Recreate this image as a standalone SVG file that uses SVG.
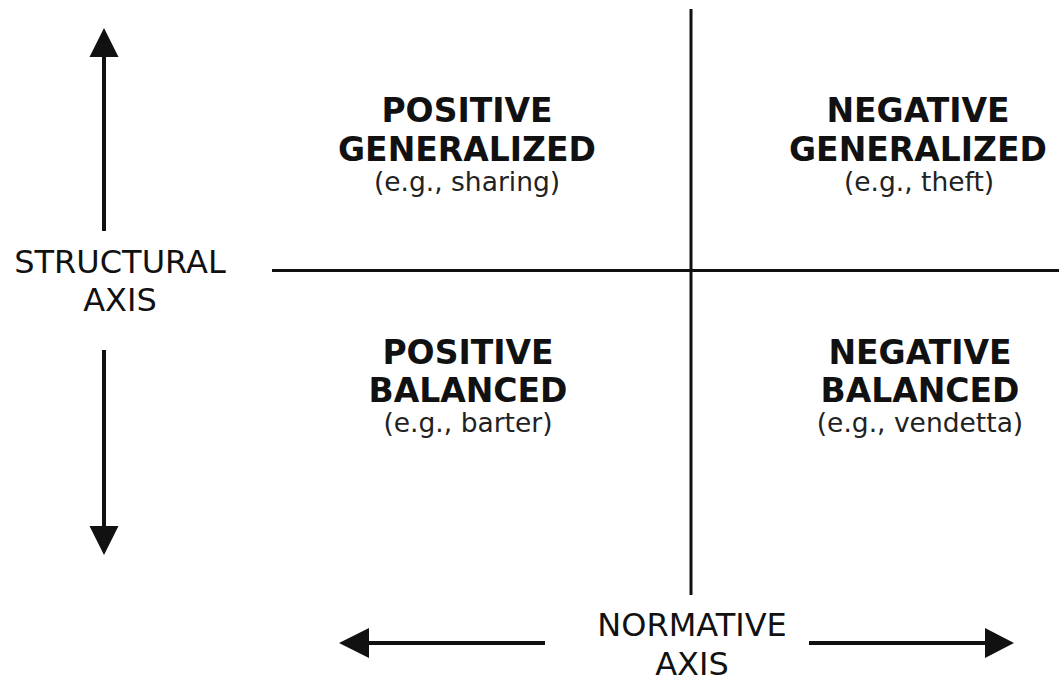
<svg xmlns="http://www.w3.org/2000/svg" width="1059" height="680" viewBox="0 0 1059 680">
  <style>
    .axis { stroke: #111; stroke-width: 3; fill: none; }
    .arrow { stroke: #111; stroke-width: 4; fill: none; }
    .head { fill: #111; stroke: none; }
    .title { font-family: "DejaVu Sans", Verdana, sans-serif; font-weight: bold; font-size: 33px; fill: #111; text-anchor: middle; }
    .example { font-family: "DejaVu Sans", Verdana, sans-serif; font-size: 26.5px; fill: #222; text-anchor: middle; }
    .label { font-family: "DejaVu Sans", Verdana, sans-serif; font-size: 32px; fill: #111; text-anchor: middle; }
  </style>
  <rect width="1059" height="680" fill="#fff"/>

  <!-- quadrant dividers and axis arrows -->
  <g id="connectors">
    <line class="axis" x1="691" y1="9" x2="691" y2="595"/>
    <line class="axis" x1="272" y1="270.5" x2="1059" y2="270.5"/>

    <!-- structural axis: up and down -->
    <line class="arrow" x1="104" y1="231" x2="104" y2="55"/>
    <polygon class="head" points="104,28 89.5,57 118.5,57"/>
    <line class="arrow" x1="104" y1="350" x2="104" y2="528"/>
    <polygon class="head" points="104,555 89.5,526 118.5,526"/>

    <!-- normative axis: left and right -->
    <line class="arrow" x1="545" y1="643" x2="367" y2="643"/>
    <polygon class="head" points="339,643 369,628 369,658"/>
    <line class="arrow" x1="809" y1="643" x2="987" y2="643"/>
    <polygon class="head" points="1014,643 985,628 985,658"/>
  </g>

  <g id="structural-axis-label">
    <text class="label" x="120" y="273">STRUCTURAL</text>
    <text class="label" x="120" y="311">AXIS</text>
  </g>

  <g id="normative-axis-label">
    <text class="label" x="692" y="636">NORMATIVE</text>
    <text class="label" x="692" y="675">AXIS</text>
  </g>

  <g id="positive-generalized">
    <text class="title" x="467" y="122">POSITIVE</text>
    <text class="title" x="467" y="161">GENERALIZED</text>
    <text class="example" x="467" y="191">(e.g., sharing)</text>
  </g>

  <g id="negative-generalized">
    <text class="title" x="918" y="122">NEGATIVE</text>
    <text class="title" x="918" y="161">GENERALIZED</text>
    <text class="example" x="919" y="191">(e.g., theft)</text>
  </g>

  <g id="positive-balanced">
    <text class="title" x="468" y="364">POSITIVE</text>
    <text class="title" x="468" y="402">BALANCED</text>
    <text class="example" x="468" y="432">(e.g., barter)</text>
  </g>

  <g id="negative-balanced">
    <text class="title" x="920" y="364">NEGATIVE</text>
    <text class="title" x="920" y="402">BALANCED</text>
    <text class="example" x="920" y="432">(e.g., vendetta)</text>
  </g>
</svg>
